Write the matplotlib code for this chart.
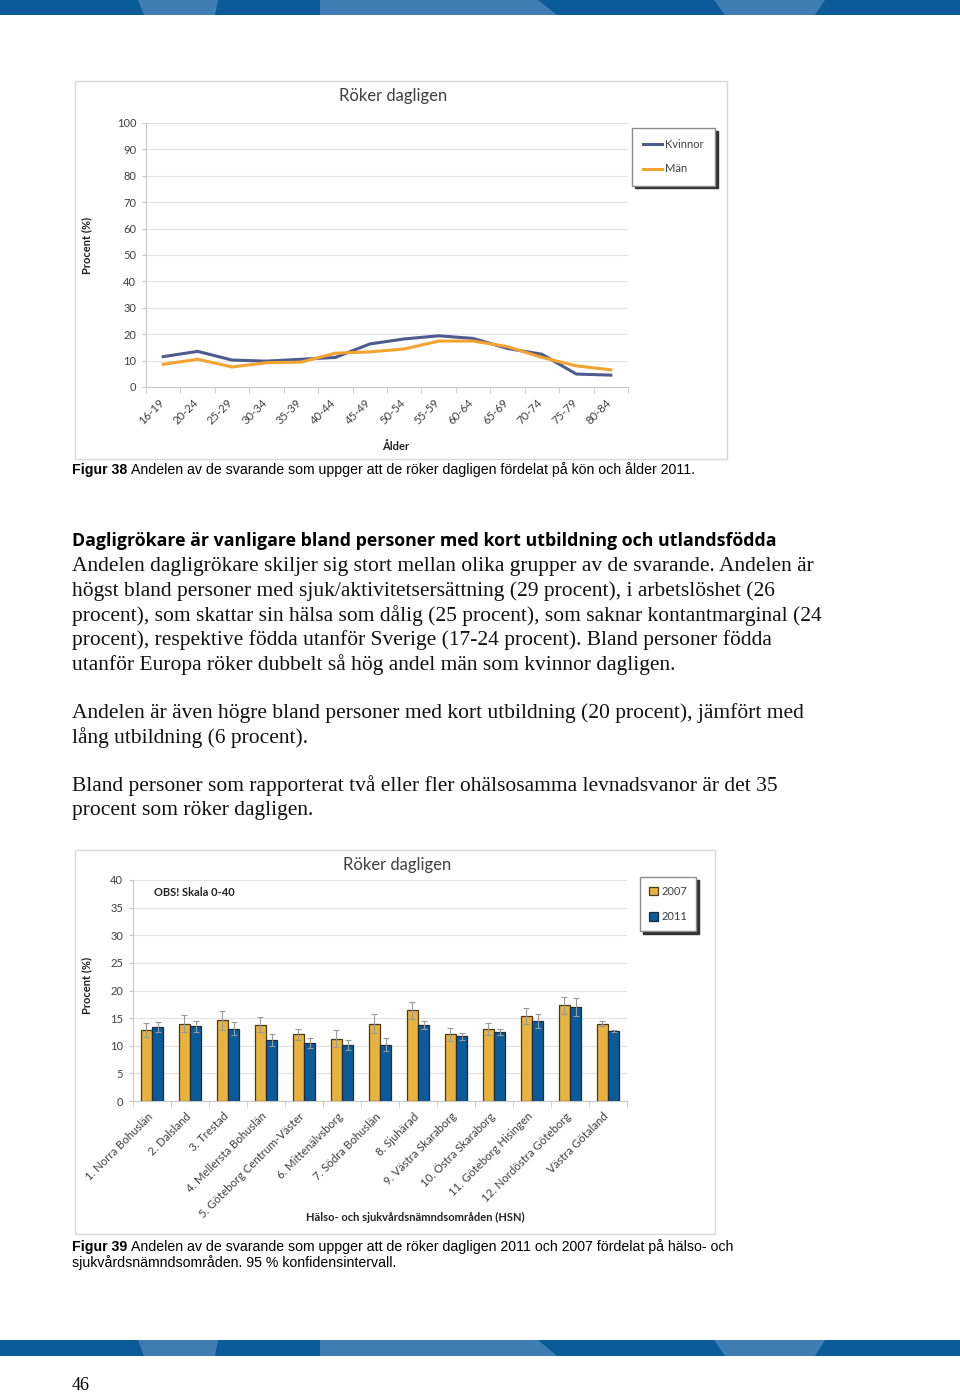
import numpy as np
import matplotlib
matplotlib.use("Agg")
import matplotlib.pyplot as plt
import matplotlib.transforms as mtransforms
from matplotlib.patches import Polygon, Rectangle

# ---- data ----
ages = ["16-19", "20-24", "25-29", "30-34", "35-39", "40-44", "45-49",
        "50-54", "55-59", "60-64", "65-69", "70-74", "75-79", "80-84"]
kvinnor = [11.5, 13.5, 10.2, 9.8, 10.5, 11.2, 16.3, 18.2, 19.4, 18.4, 14.6, 12.4, 4.9, 4.5]
man = [8.6, 10.5, 7.6, 9.2, 9.4, 12.8, 13.3, 14.4, 17.4, 17.4, 15.3, 11.2, 8.0, 6.5]

areas = ["1. Norra Bohuslän", "2. Dalsland", "3. Trestad", "4. Mellersta Bohuslän",
         "5. Göteborg Centrum-Väster", "6. Mittenälvsborg", "7. Södra Bohuslän",
         "8. Sjuhärad", "9. Västra Skaraborg", "10. Östra Skaraborg",
         "11. Göteborg Hisingen", "12. Nordöstra Göteborg", "Västra Götaland"]
y2007 = [12.9, 14.0, 14.6, 13.8, 12.1, 11.3, 14.0, 16.4, 12.1, 13.1, 15.4, 17.3, 14.0]
y2011 = [13.4, 13.55, 13.1, 11.1, 10.5, 10.2, 10.2, 13.8, 11.7, 12.5, 14.5, 17.0, 12.7]
ci2007 = [1.3, 1.5, 1.7, 1.4, 1.0, 1.5, 1.7, 1.6, 1.2, 1.1, 1.4, 1.6, 0.5]
ci2011 = [0.9, 1.0, 1.2, 1.1, 0.9, 0.9, 1.2, 0.7, 0.6, 0.6, 1.3, 1.6, 0.2]

body1 = ["Andelen dagligrökare skiljer sig stort mellan olika grupper av de svarande. Andelen är",
         "högst bland personer med sjuk/aktivitetsersättning (29 procent), i arbetslöshet (26",
         "procent), som skattar sin hälsa som dålig (25 procent), som saknar kontantmarginal (24",
         "procent), respektive födda utanför Sverige (17-24 procent). Bland personer födda",
         "utanför Europa röker dubbelt så hög andel män som kvinnor dagligen."]
body2 = ["Andelen är även högre bland personer med kort utbildning (20 procent), jämfört med",
         "lång utbildning (6 procent)."]
body3 = ["Bland personer som rapporterat två eller fler ohälsosamma levnadsvanor är det 35",
         "procent som röker dagligen."]

W, H = 960, 1392
CF = "Lato"
TXT = "#404040"

fig = plt.figure(figsize=(W / 100, H / 100), dpi=100)
bg = fig.add_axes([0, 0, 1, 1])
bg.set_xlim(0, W)
bg.set_ylim(H, 0)
bg.axis("off")


def rect(x0, y0, x1, y1):
    return [x0 / W, 1 - y1 / H, (x1 - x0) / W, (y1 - y0) / H]


def banner(y0, y1):
    bg.add_patch(Rectangle((0, y0), W, y1 - y0, color="#0A5B98", lw=0))
    for (a, b, c, d) in [(138, 218, 144, 215), (320, 538, 320, 557), (714, 825, 725, 815)]:
        bg.add_patch(Polygon([(a, y0), (b, y0), (d, y1), (c, y1)], closed=True,
                             color="#3F7DB5", lw=0))


banner(0, 15)
banner(1340, 1356)

# chart frames
bg.add_patch(Rectangle((75, 81), 652, 378, fill=False, ec="#D9D9D9", lw=1))
bg.add_patch(Rectangle((75, 850), 640, 384, fill=False, ec="#D9D9D9", lw=1))

shift = mtransforms.ScaledTranslation(-5 / 100, 0, fig.dpi_scale_trans)


def style_axes(ax, labels):
    n = len(labels)
    ax.set_facecolor("none")
    ax.grid(axis="y", color="#E3E3E3", lw=0.8)
    ax.set_axisbelow(True)
    for s in ["top", "right"]:
        ax.spines[s].set_visible(False)
    for s in ["left", "bottom"]:
        ax.spines[s].set_color("#C8C8C8")
    ax.set_xlim(-0.5, n - 0.5)
    ax.set_xticks(np.arange(n))
    ax.set_xticks(np.arange(n + 1) - 0.5, minor=True)
    ax.tick_params(axis="x", which="major", length=0, pad=7)
    ax.tick_params(axis="x", which="minor", length=4, color="#C8C8C8")
    ax.tick_params(axis="y", length=3, color="#C8C8C8", pad=4)
    for lab in ax.get_yticklabels():
        lab.set_fontfamily(CF)
        lab.set_fontsize(8)
        lab.set_color(TXT)
    ax.set_xticklabels(labels, rotation=45, ha="right", va="top", rotation_mode="anchor",
                       fontfamily=CF, fontsize=8.2, color=TXT)
    for lab in ax.get_xticklabels():
        lab.set_transform(lab.get_transform() + shift)


def legend(ax, x, y, **kw):
    leg = ax.legend(loc="upper left", bbox_to_anchor=(x / W, 1 - y / H),
                    bbox_transform=fig.transFigure, borderaxespad=0, frameon=True,
                    fancybox=False, edgecolor="#8C8C8C", prop={"family": CF, "size": 8},
                    shadow={"facecolor": "#333333", "edgecolor": "#333333", "alpha": 1},
                    **kw)
    for t in leg.get_texts():
        t.set_color(TXT)


# ---- chart 1: line chart ----
ax1 = fig.add_axes(rect(146, 123, 628, 387))
x = np.arange(len(ages))
ax1.plot(x, kvinnor, color="#4E5B8F", lw=2.2, label="Kvinnor")
ax1.plot(x, man, color="#F2A330", lw=2.2, label="Män")
ax1.set_ylim(0, 100)
ax1.set_yticks(np.arange(0, 101, 10))
style_axes(ax1, ages)
legend(ax1, 632, 128, handlelength=1.7, handletextpad=0.3, borderpad=1.0,
       labelspacing=1.2)
bg.text(393, 96, "Röker dagligen", ha="center", va="center", fontfamily=CF,
        fontsize=12, color=TXT)
bg.text(396, 447, "Ålder", ha="center", va="center", fontfamily=CF, fontsize=8,
        fontweight="bold", color="#222222")
bg.text(87, 245, "Procent (%)", ha="center", va="center", rotation=90, fontfamily=CF,
        fontsize=8, fontweight="bold", color="#222222")

# ---- chart 2: bar chart ----
ax2 = fig.add_axes(rect(133, 880, 627, 1101))
xb = np.arange(len(areas))
bw = 0.29
err = dict(ecolor="#9A9A9A", elinewidth=0.8, capsize=2, capthick=0.8)
ax2.bar(xb - bw / 2, y2007, bw, color="#E6B33E", edgecolor="#4A3A18", lw=0.9,
        label="2007", yerr=ci2007, error_kw=err)
ax2.bar(xb + bw / 2, y2011, bw, color="#0B5A9A", edgecolor="#1C2C3E", lw=0.9,
        label="2011", yerr=ci2011, error_kw=err)
ax2.set_ylim(0, 40)
ax2.set_yticks(np.arange(0, 41, 5))
style_axes(ax2, areas)
legend(ax2, 640, 877, handlelength=0.8, handleheight=0.8, handletextpad=0.3,
       borderpad=0.8, labelspacing=1.3)
bg.text(397, 865, "Röker dagligen", ha="center", va="center", fontfamily=CF,
        fontsize=12, color=TXT)
bg.text(154, 893, "OBS! Skala 0-40", ha="left", va="center", fontfamily=CF, fontsize=8,
        fontweight="bold", color="#222222")
bg.text(415, 1217, "Hälso- och sjukvårdsnämndsområden (HSN)", ha="center", va="center",
        fontfamily=CF, fontsize=8, fontweight="bold", color="#222222")
bg.text(87, 985, "Procent (%)", ha="center", va="center", rotation=90, fontfamily=CF,
        fontsize=8, fontweight="bold", color="#222222")

# ---- captions and body text ----
CAP = "Liberation Sans"
SER = "Liberation Serif"


def caption(y, bold, rest):
    bg.text(72, y, bold, ha="left", va="center", fontfamily=CAP, fontsize=10.15,
            fontweight="bold", color="black")
    bg.text(131, y, rest, ha="left", va="center", fontfamily=CAP, fontsize=10.15,
            color="black")


caption(470, "Figur 38", "Andelen av de svarande som uppger att de röker dagligen "
                         "fördelat på kön och ålder 2011.")
caption(1247, "Figur 39", "Andelen av de svarande som uppger att de röker dagligen "
                          "2011 och 2007 fördelat på hälso- och")
bg.text(72, 1263, "sjukvårdsnämndsområden. 95 % konfidensintervall.", ha="left",
        va="center", fontfamily=CAP, fontsize=10.15, color="black")

bg.text(72, 541, "Dagligrökare är vanligare bland personer med kort utbildning och "
        "utlandsfödda", ha="left", va="center", fontfamily="Open Sans", fontsize=12.8,
        fontweight="bold", color="black")

for block, y0 in [(body1, 567), (body2, 713), (body3, 786)]:
    for i, line in enumerate(block):
        bg.text(72, y0 + i * 24.4, line, ha="left", va="center", fontfamily=SER,
                fontsize=15.45, color="#111111")

bg.text(72, 1385, "46", ha="left", va="center", fontfamily=SER, fontsize=13,
        color="black")

fig.savefig("out.png", dpi=100)
